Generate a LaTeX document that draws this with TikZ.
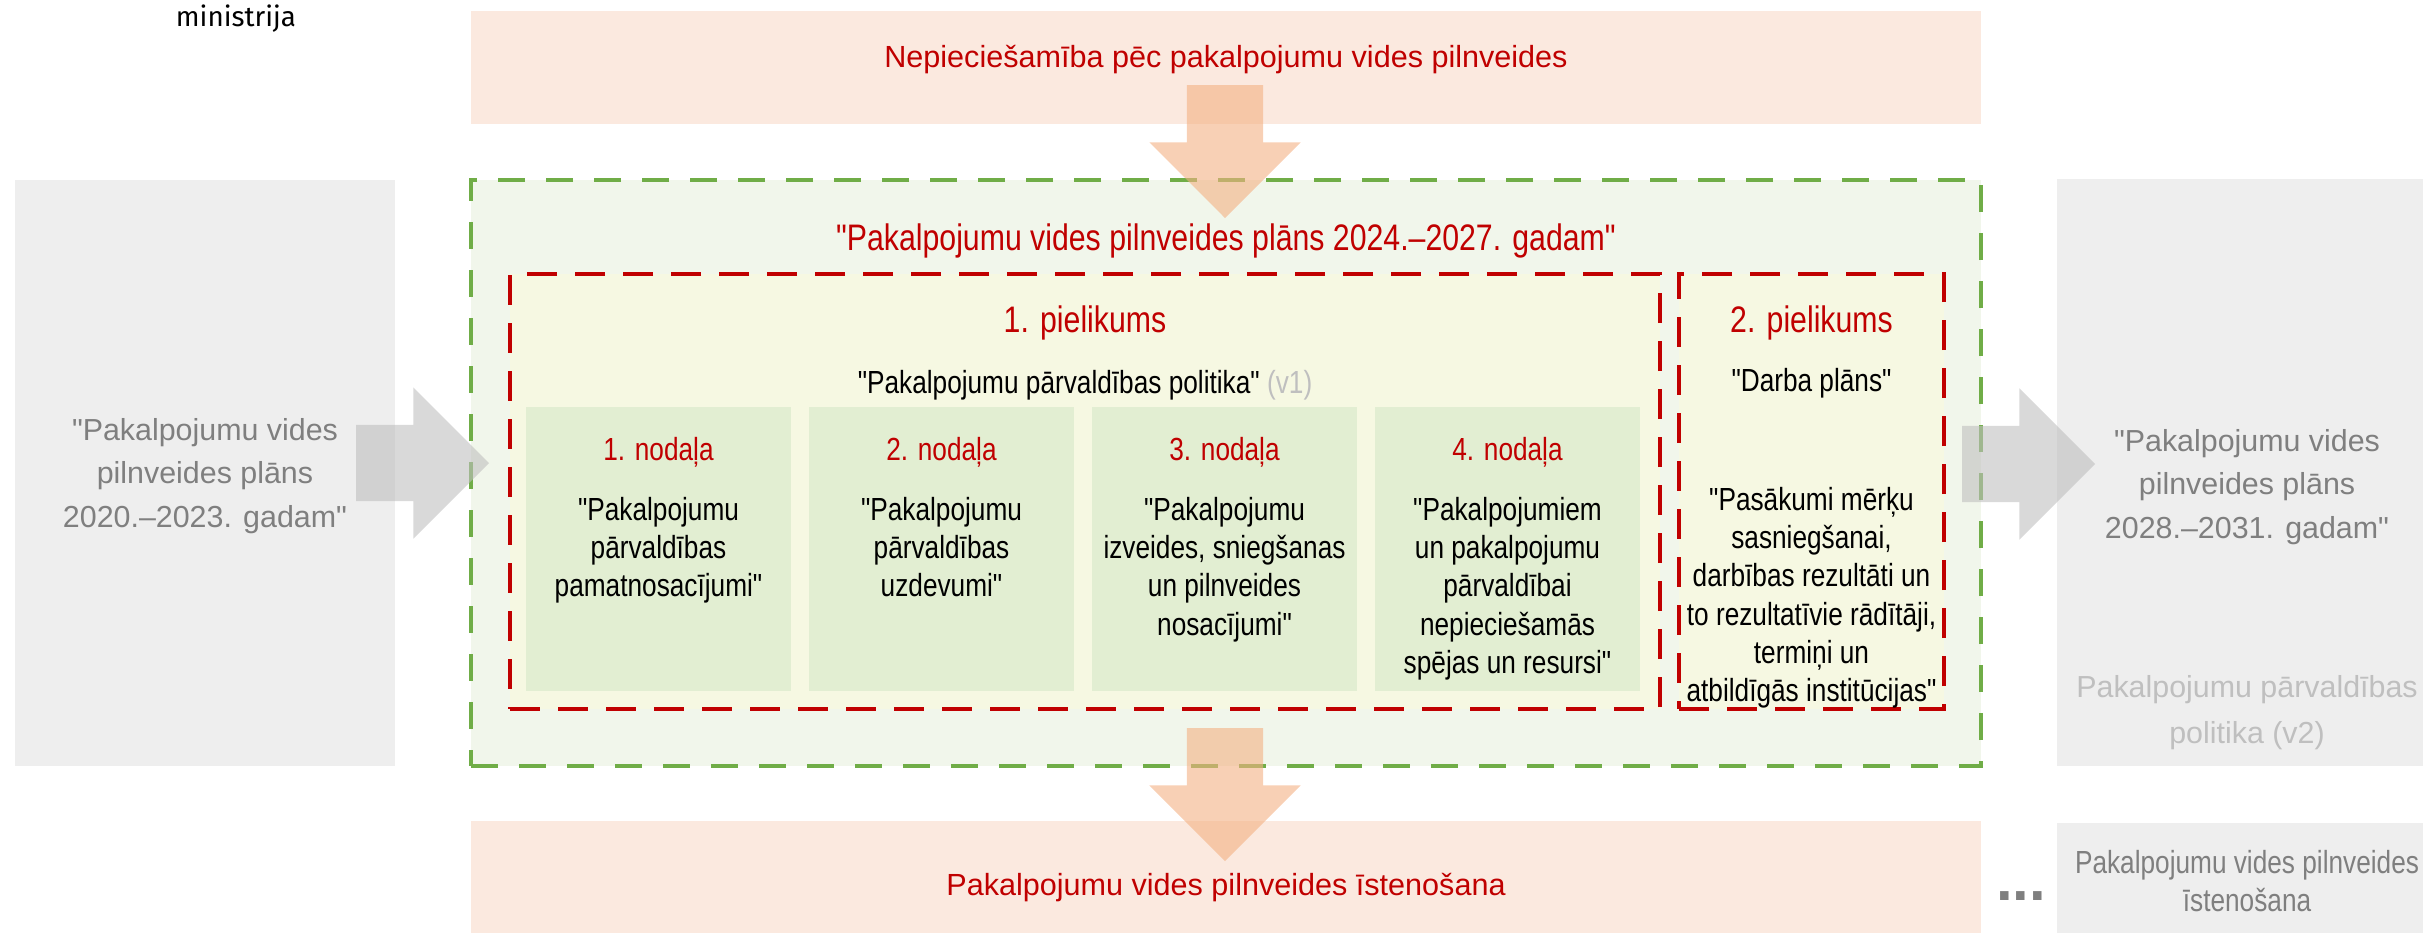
\documentclass[tikz,border=0pt]{standalone}
\usepackage{fontspec}
\setmainfont{Liberation Sans}
\newfontfamily\plainfont{Liberation Sans}
\newfontfamily\narrowfont{Liberation Sans}[FakeStretch=0.82]
\newfontfamily\logofont{Fira Sans}
\usetikzlibrary{shapes.arrows}

\definecolor{darkred}{HTML}{C00000}
\definecolor{peach}{HTML}{FBE9DF}
\definecolor{planfill}{HTML}{F1F6EB}
\definecolor{planline}{HTML}{70AD47}
\definecolor{appfill}{HTML}{F6F8E2}
\definecolor{chfill}{HTML}{E2EED2}
\definecolor{oldgray}{HTML}{EEEEEE}
\definecolor{oldtext}{HTML}{7F7F7F}
\definecolor{fadedtext}{HTML}{BFBFBF}
\definecolor{orangearr}{HTML}{F4B183}
\definecolor{grayarr}{HTML}{BFBFBF}

\begin{document}
\begin{tikzpicture}[x=0.1mm,y=-0.1mm]
      \tikzset{
        node distance=28.3mm,
        every node/.style={inner sep=0pt,outer sep=0pt,align=center},
        band/.style={fill=peach,minimum width=151mm,minimum height=11.3mm},
        oldbox/.style={fill=oldgray,minimum width=38mm},
        planbox/.style={fill=planfill,draw=planline,line width=0.9pt,dash pattern=on 2.7mm off 2.1mm,minimum width=151mm,minimum height=58.6mm},
        appbox/.style={fill=appfill,draw=darkred,line width=0.9pt,dash pattern=on 3mm off 1.8mm,minimum height=43.5mm},
        chbox/.style={fill=chfill,minimum width=26.5mm,minimum height=28.4mm},
        bigred/.style={text=darkred,font=\narrowfont\fontsize{10.5}{12.6}\selectfont},
        redlbl/.style={text=darkred,font=\narrowfont\fontsize{9.1}{10.9}\selectfont},
        bodytxt/.style={font=\narrowfont\fontsize{9.1}{10.9}\selectfont,anchor=north},
        bandtxt/.style={text=darkred,font=\plainfont\fontsize{8.7}{10.4}\selectfont},
        oldtxt/.style={text=oldtext,font=\plainfont\fontsize{8.65}{12.4}\selectfont},
        fadedtxt/.style={text=fadedtext,font=\plainfont\fontsize{8.65}{13.1}\selectfont},
        logotxt/.style={font=\logofont\fontsize{7.9}{9}\selectfont},
        dots/.style={text=oldtext,font=\plainfont\bfseries\fontsize{17}{18}\selectfont},
        blockarrow/.style={single arrow,single arrow head extend=3.75mm,text height=3.75mm,text depth=3.75mm,minimum height=13.3mm,anchor=tail}
      }
      \useasboundingbox (0,0) rectangle (2423,933);

      \node[logotxt] (ministry) at (236,18.5) {ministrija};

      \node[band] (need) at (1226,67.5) {};
      \node[bandtxt] (needtxt) at (1226,60) {Nepieciešamība pēc pakalpojumu vides pilnveides};

      \node[oldbox,minimum height=58.6mm] (prev) at (205,473) {};
      \node[oldtxt] (prevtxt) at (205,476) {"Pakalpojumu vides\\pilnveides plāns\\2020.–2023. gadam"};

      \node[planbox] (plan) at (1226,473) {};
      \node[bigred] (plantxt) at (1226,241) {"Pakalpojumu vides pilnveides plāns 2024.–2027. gadam"};

      \node[appbox,minimum width=115mm] (app1) at (1085,491.5) {};
      \node[bigred] (app1t) at (1085,323) {1. pielikums};
      \node[redlbl,text=black] (policy) at (1085,385) {"Pakalpojumu pārvaldības politika" \textcolor{fadedtext}{(v1)}};

      \node[chbox] (ch1) at (658.5,549) {};
      \node[chbox,right of=ch1] (ch2) {};
      \node[chbox,right of=ch2] (ch3) {};
      \node[chbox,right of=ch3] (ch4) {};

      \node[redlbl] (ch1t) at ([yshift=-4.5mm]ch1.north) {1. nodaļa};
      \node[redlbl] (ch2t) at ([yshift=-4.5mm]ch2.north) {2. nodaļa};
      \node[redlbl] (ch3t) at ([yshift=-4.5mm]ch3.north) {3. nodaļa};
      \node[redlbl] (ch4t) at ([yshift=-4.5mm]ch4.north) {4. nodaļa};

      \node[bodytxt] (ch1b) at ([yshift=-9mm]ch1.north) {"Pakalpojumu\\pārvaldības\\pamatnosacījumi"};
      \node[bodytxt] (ch2b) at ([yshift=-9mm]ch2.north) {"Pakalpojumu\\pārvaldības\\uzdevumi"};
      \node[bodytxt] (ch3b) at ([yshift=-9mm]ch3.north) {"Pakalpojumu\\izveides, sniegšanas\\un pilnveides\\nosacījumi"};
      \node[bodytxt] (ch4b) at ([yshift=-9mm]ch4.north) {"Pakalpojumiem\\un pakalpojumu\\pārvaldībai\\nepieciešamās\\spējas un resursi"};

      \node[appbox,minimum width=26.5mm] (app2) at (1811.5,491.5) {};
      \node[bigred] (app2t) at (1811.5,322.5) {2. pielikums};
      \node[redlbl,text=black] (workplan) at (1811.5,383.5) {"Darba plāns"};
      \node[bodytxt] (app2b) at (1811.5,487) {"Pasākumi mērķu\\sasniegšanai,\\darbības rezultāti un\\to rezultatīvie rādītāji,\\termiņi un\\atbildīgās institūcijas"};

      \node[oldbox,minimum height=58.7mm] (next) at (2247,472.5) {};
      \node[oldtxt] (nexttxt) at (2247,487) {"Pakalpojumu vides\\pilnveides plāns\\2028.–2031. gadam"};
      \node[fadedtxt] (policy2) at (2247,713) {Pakalpojumu pārvaldības\\politika (v2)};

      \node[band,minimum height=11.2mm] (impl) at (1226,877) {};
      \node[bandtxt] (impltxt) at (1226,888) {Pakalpojumu vides pilnveides īstenošana};

      \node[oldbox,minimum height=11mm] (nextimpl) at (2247,878) {};
      \node[redlbl,text=oldtext] (nextimpltxt) at (2247,881) {Pakalpojumu vides pilnveides\\īstenošana};
      \node[dots] (more) at (2021,896) {...};

      \node[blockarrow,fill=orangearr,fill opacity=0.6,rotate=-90] (arrdown) at (1225,85) {};
      \node[blockarrow,fill=orangearr,fill opacity=0.6,rotate=-90] (arrimpl) at (1225,728) {};
      \node[blockarrow,fill=grayarr,fill opacity=0.6] (arrprev) at (356,463) {};
      \node[blockarrow,fill=grayarr,fill opacity=0.6] (arrnext) at (1962,464) {};
\end{tikzpicture}
\end{document}
